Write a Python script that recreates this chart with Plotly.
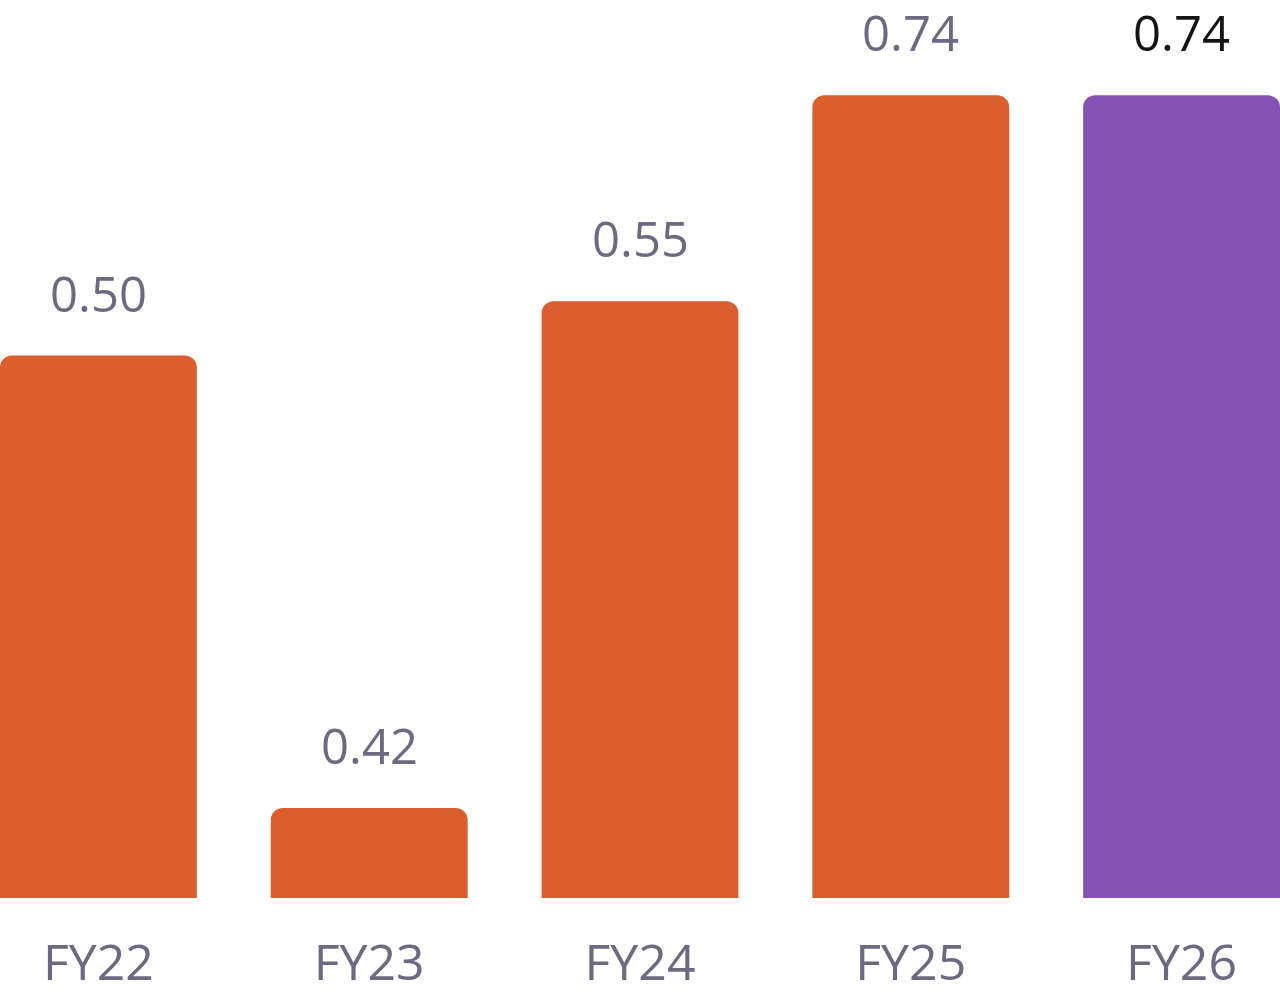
import plotly.graph_objects as go

categories = ["FY22", "FY23", "FY24", "FY25", "FY26"]
bar_heights = [0.50, 0.083, 0.55, 0.74, 0.74]
value_labels = ["0.50", "0.42", "0.55", "0.74", "0.74"]
bar_colors = ["#DA5E2E", "#DA5E2E", "#DA5E2E", "#DA5E2E", "#8552B6"]
label_colors = ["#6B6A80", "#6B6A80", "#6B6A80", "#6B6A80", "#141414"]

FONT = "Open Sans"

fig = go.Figure()
fig.add_trace(go.Bar(
    x=categories, y=bar_heights,
    marker=dict(color=bar_colors, cornerradius=12, line=dict(width=0)),
    width=0.727, hoverinfo="skip",
))

for c, h, t, col in zip(categories, bar_heights, value_labels, label_colors):
    fig.add_annotation(x=c, y=h, text=t, showarrow=False, yanchor="bottom",
                       yshift=28, font=dict(family=FONT, size=49, color=col))

fig.update_layout(
    width=1280, height=995,
    margin=dict(l=0, r=0, t=0, b=92),
    paper_bgcolor="white", plot_bgcolor="white",
    showlegend=False,
    xaxis=dict(range=[-0.3635, 4.3635], showgrid=False, zeroline=False, showline=False,
               ticks="", ticklabelstandoff=31,
               tickfont=dict(family=FONT, size=50, color="#6B6A80")),
    yaxis=dict(range=[0, 0.8278], visible=False, showgrid=False, zeroline=False),
)

fig.write_html("out.html")
